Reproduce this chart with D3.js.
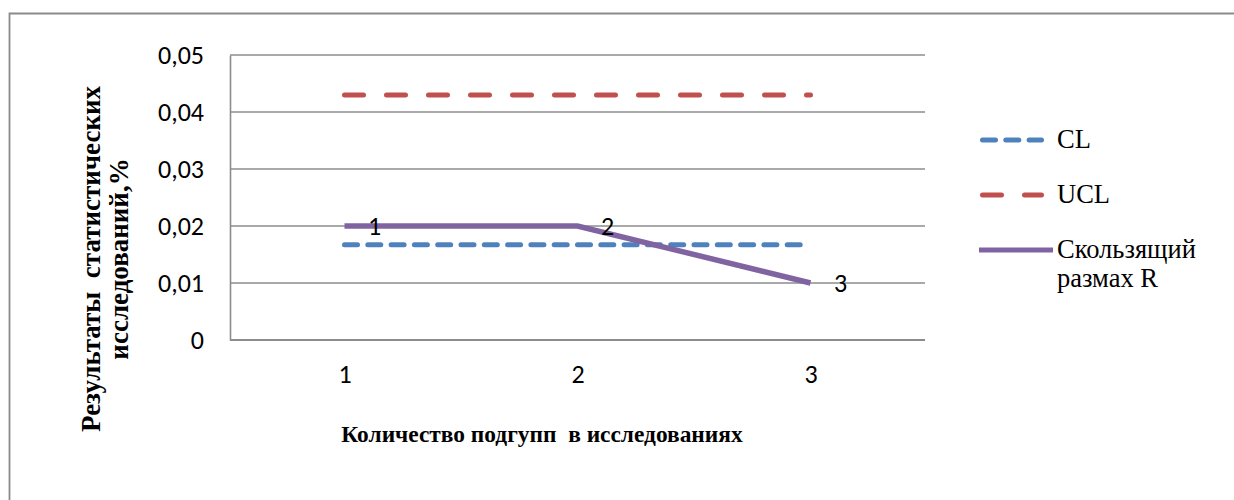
<!DOCTYPE html>
<html><head><meta charset="utf-8">
<script src="https://cdn.jsdelivr.net/npm/d3@7"></script>
<style>body{margin:0;background:#fff}svg{display:block}text{white-space:pre}</style>
</head><body>
<script>
const categories = ["1", "2", "3"];
const clValues = [0.0167, 0.0167, 0.0167];
const uclValues = [0.043, 0.043, 0.043];
const rValues = [0.02, 0.02, 0.01];
const rLabels = ["1", "2", "3"];
const yTicks = [0, 0.01, 0.02, 0.03, 0.04, 0.05];
const seriesNames = ["CL", "UCL", "Скользящий размах R"];

const W = 1234, H = 500;
const svg = d3.select("body").append("svg").attr("width", W).attr("height", H);
svg.append("rect").attr("width", W).attr("height", H).attr("fill", "#fff");
// outer chart border
svg.append("path").attr("d", "M9.5,510 V13.5 H1250").attr("fill", "none").attr("stroke", "#8a8a8a").attr("stroke-width", 1.8);

const m = {l: 230, r: 925, t: 55, b: 340};
const x = d3.scalePoint().domain(categories).range([m.l - 2, m.r + 2]).padding(0.5);
const y = d3.scaleLinear().domain([0, 0.05]).range([m.b, m.t]);
const sansFont = "Carlito, 'Open Sans', 'Liberation Sans', sans-serif";
const serifFont = "'Liberation Serif', 'Times New Roman', serif";
const tickSize = 26;

// gridlines
svg.append("g").selectAll("line").data(yTicks.filter(d => d > 0)).join("line")
  .attr("x1", m.l).attr("x2", m.r).attr("y1", d => y(d)).attr("y2", d => y(d))
  .attr("stroke", "#8c8c8c").attr("stroke-width", 1.4);

// y axis
const yAxis = d3.axisLeft(y).tickValues(yTicks).tickSize(0).tickPadding(26)
  .tickFormat(d => d === 0 ? "0" : d3.format(".2f")(d).replace(".", ","));
const gy = svg.append("g").attr("transform", `translate(${m.l},0)`).call(yAxis);
gy.select(".domain").attr("stroke", "#8c8c8c").attr("stroke-width", 1.6);
gy.selectAll("text").attr("font-family", sansFont).attr("font-size", tickSize).attr("fill", "#000");

// x axis
const xAxis = d3.axisBottom(x).tickSize(0).tickPadding(25);
const gx = svg.append("g").attr("transform", `translate(0,${m.b})`).call(xAxis);
gx.select(".domain").attr("d", `M${m.l},0H${m.r}`).attr("stroke", "#8c8c8c").attr("stroke-width", 2.2);
gx.selectAll("text").attr("font-family", sansFont).attr("font-size", tickSize).attr("fill", "#000");

const line = d3.line().x((d, i) => x(categories[i])).y(d => y(d));

svg.append("path").datum(uclValues).attr("d", line).attr("fill", "none")
  .attr("stroke", "#C0504D").attr("stroke-width", 5).attr("stroke-linecap", "round")
  .attr("stroke-dasharray", "19,23");
svg.append("path").datum(clValues).attr("d", line).attr("fill", "none")
  .attr("stroke", "#4F81BD").attr("stroke-width", 5).attr("stroke-linecap", "round")
  .attr("stroke-dasharray", "13,10.3");
svg.append("path").datum(rValues).attr("d", line).attr("fill", "none")
  .attr("stroke", "#8064A2").attr("stroke-width", 5.5);

// data labels
svg.append("g").selectAll("text").data(rValues).join("text")
  .attr("x", (d, i) => x(categories[i]) + 30).attr("y", d => y(d) + 9)
  .attr("text-anchor", "middle")
  .attr("font-family", sansFont).attr("font-size", tickSize)
  .text((d, i) => rLabels[i]);

// axis titles
const yt = svg.append("text").attr("transform", "translate(100,259) rotate(-90)")
  .attr("text-anchor", "middle").attr("font-family", serifFont)
  .attr("font-weight", "bold").attr("font-size", 27);
yt.append("tspan").attr("x", 0).attr("y", 0).text("Результаты  статистических");
yt.append("tspan").attr("x", 0).attr("y", 28).text("исследований,%");

svg.append("text").attr("x", 542).attr("y", 442).attr("text-anchor", "middle")
  .attr("font-family", serifFont).attr("font-weight", "bold").attr("font-size", 23.4)
  .text("Количество подгупп  в исследованиях");

// legend
const legY = [140, 195, 250];
const lg = svg.append("g");
const legStyles = [
  {c: "#4F81BD", dash: "13,10.3"},
  {c: "#C0504D", dash: "19,23"},
  {c: "#8064A2", dash: null}
];
seriesNames.forEach((name, i) => {
  const s = legStyles[i];
  const l = lg.append("line").attr("x1", i === 2 ? 979 : 982.5).attr("x2", i === 2 ? 1053 : 1041.5)
    .attr("y1", legY[i]).attr("y2", legY[i])
    .attr("stroke", s.c).attr("stroke-width", 5);
  if (s.dash) l.attr("stroke-dasharray", s.dash).attr("stroke-linecap", "round");
  const t = lg.append("text").attr("x", 1057).attr("y", legY[i] + 8)
    .attr("font-family", serifFont).attr("font-size", 26.5).attr("fill", "#000");
  if (i === 2) {
    t.append("tspan").attr("x", 1057).text("Скользящий");
    t.append("tspan").attr("x", 1057).attr("dy", 29).text("размах R");
  } else t.text(name);
});
</script>
</body></html>
